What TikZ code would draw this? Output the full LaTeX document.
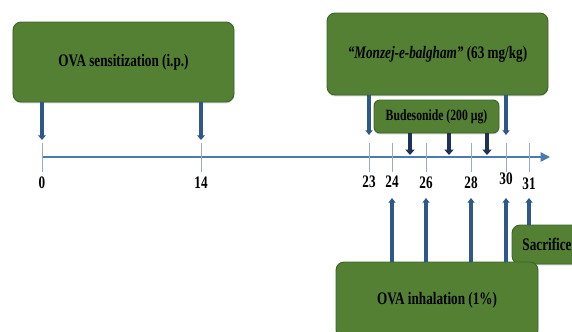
\documentclass[tikz,border=0pt]{standalone}
\usepackage{fontspec}
\setmainfont{Liberation Serif}[FakeStretch=0.75]
\usetikzlibrary{arrows.meta,positioning,calc,shadows}
\definecolor{boxgreen}{RGB}{84,128,52}
\definecolor{boxedge}{RGB}{62,98,38}
\definecolor{dayblue}{RGB}{47,88,138}
\definecolor{budnavy}{RGB}{30,50,85}
\definecolor{lineblue}{RGB}{75,122,176}
\definecolor{tickgray}{RGB}{150,172,200}
\tikzset{
  stepbox/.style={draw=boxedge, fill=boxgreen, rounded corners=7pt, thick,
    align=center, inner sep=2pt, font=\bfseries\fontsize{15}{17}\selectfont,
    drop shadow={shadow xshift=0pt, shadow yshift=-1.2pt, opacity=.35}},
  budbox/.style={stepbox, rounded corners=5pt, font=\bfseries\fontsize{13.3}{15}\selectfont},
  timeline/.style={draw=lineblue, line width=1.2pt, -{Triangle[length=8pt,width=8pt]}},
  tickline/.style={draw=tickgray, line width=.8pt},
  daylabel/.style={font=\bfseries\fontsize{15}{17}\selectfont, inner sep=0pt},
  dosearrow/.style={draw=dayblue, line width=3.2pt, -{Triangle[length=4pt,width=6.5pt]}},
  sidearrow/.style={draw=dayblue, line width=2.6pt, -{Triangle[length=4pt,width=6pt]}},
  budarrow/.style={draw=budnavy, line width=3.4pt, -{Triangle[length=4.5pt,width=7.5pt]}},
  uparrow/.style={draw=dayblue, line width=2.6pt, -{Triangle[length=4pt,width=6pt]}}
}
\newcommand{\daytick}[3]{
  \coordinate (d#1) at (#2,157);
  \draw[tickline] ($(d#1)+(0,-14)$) -- ($(d#1)+(0,15)$);
  \node[daylabel] (l#1) at (#2,#3) {#1};
}

\begin{document}
\begin{tikzpicture}[x=0.03cm, y=-0.03cm]
  \clip (0,0) rectangle (572,331);

  % time axis
  \coordinate (start) at (42,157);
  \coordinate (end) at (550,157);
  \draw[timeline] (start) -- (end);
  \daytick{0}{42}{183}
  \daytick{14}{201}{183}
  \daytick{23}{369}{182}
  \daytick{24}{392}{182}
  \daytick{26}{426}{183}
  \daytick{28}{471}{183}
  \daytick{30}{506}{179}
  \daytick{31}{529}{184}
  \coordinate (d25) at (410,157);
  \coordinate (d27) at (449,157);
  \coordinate (d29) at (487,157);

  % boxes
  \node[stepbox, minimum width=6.63cm, minimum height=2.4cm] (sens) at (123.5,62)
    {OVA sensitization (i.p.)};
  \node[stepbox, minimum width=6.63cm, minimum height=2.46cm] (monz) at (437.5,54)
    {\textit{``Monzej-e-balgham''} (63 mg/kg)};
  \node[budbox, minimum width=3.75cm, minimum height=.99cm] (bud) at (436.5,116.5)
    {Budesonide (200 µg)};
  \node[stepbox, minimum width=2.1cm, minimum height=1.17cm] (sacr) at (547,244.5)
    {Sacrifice};
  \node[stepbox, minimum width=6.06cm, minimum height=2.28cm] (inhal) at (437,300)
    {OVA inhalation (1\%)};

  % sensitization
  \draw[dosearrow] (sens.south -| d0) -- ($(d0)+(0,-17)$);
  \draw[dosearrow] (sens.south -| d14) -- ($(d14)+(0,-17)$);

  % treatment
  \draw[sidearrow] (monz.south -| d23) -- ($(d23)+(0,-22)$);
  \draw[sidearrow] (monz.south -| d30) -- ($(d30)+(0,-22)$);
  \draw[budarrow] (bud.south -| d25) -- ($(d25)+(0,-2)$);
  \draw[budarrow] (bud.south -| d27) -- ($(d27)+(0,-2)$);
  \draw[budarrow] (bud.south -| d29) -- ($(d29)+(0,-2)$);

  % challenge
  \draw[uparrow] (inhal.north -| d24) -- ($(d24)+(0,41)$);
  \draw[uparrow] (inhal.north -| d26) -- ($(d26)+(0,41)$);
  \draw[uparrow] (inhal.north -| d28) -- ($(d28)+(0,41)$);
  \draw[uparrow] (inhal.north -| d30) -- ($(d30)+(0,41)$);
  \draw[uparrow] (sacr.north -| d31) -- ($(d31)+(0,41)$);
\end{tikzpicture}
\end{document}
